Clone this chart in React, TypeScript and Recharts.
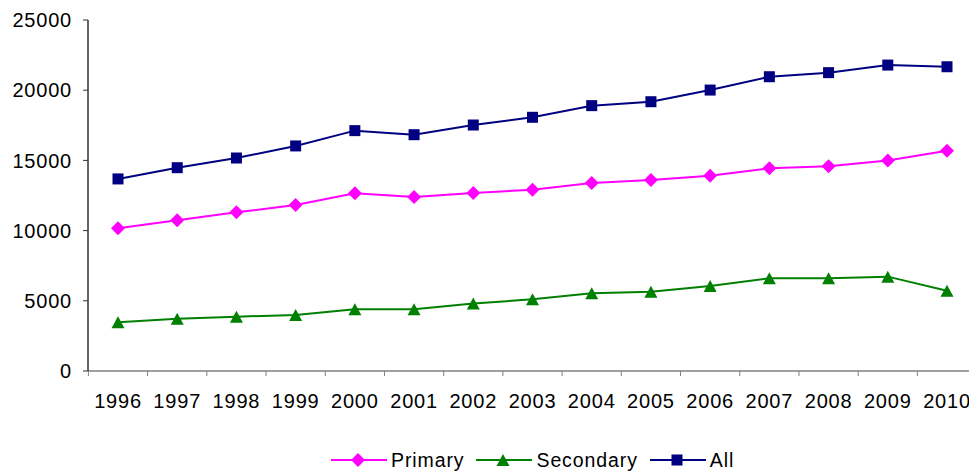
import React from 'react';
import { LineChart, Line, XAxis, YAxis, Legend } from 'recharts';

const years = ['1996', '1997', '1998', '1999', '2000', '2001', '2002', '2003', '2004', '2005', '2006', '2007', '2008', '2009', '2010'];
const primary = [10160, 10730, 11300, 11820, 12660, 12390, 12680, 12910, 13390, 13600, 13910, 14440, 14580, 15000, 15690];
const secondary = [3470, 3730, 3870, 3990, 4390, 4390, 4800, 5110, 5530, 5650, 6050, 6600, 6600, 6720, 5720];
const all = [13680, 14480, 15170, 16030, 17120, 16830, 17520, 18070, 18900, 19180, 20010, 20960, 21250, 21790, 21670];
const yTicks = [0, 5000, 10000, 15000, 20000, 25000];

const data = years.map((year, i) => ({
  year,
  Primary: primary[i],
  Secondary: secondary[i],
  All: all[i],
}));

const FONT = '"Liberation Sans", Arial, sans-serif';
const PINK = '#ff00ff';
const GREEN = '#008000';
const NAVY = '#000080';

// chart geometry
const CHART_W = 982;
const CHART_H = 472;
const PLOT_LEFT = 88;
const PLOT_RIGHT = 977;
const X_PAD = 30;
const STEP = (PLOT_RIGHT - PLOT_LEFT - 2 * X_PAD) / (years.length - 1);

const diamond = (cx: number, cy: number, color: string, key?: string) => (
  <path key={key} d={`M${cx},${cy - 7}L${cx + 7},${cy}L${cx},${cy + 7}L${cx - 7},${cy}Z`} fill={color} />
);
const triangle = (cx: number, cy: number, color: string, key?: string) => (
  <path key={key} d={`M${cx},${cy - 6}L${cx + 6.5},${cy + 6}L${cx - 6.5},${cy + 6}Z`} fill={color} />
);
const square = (cx: number, cy: number, color: string, key?: string) => (
  <rect key={key} x={cx - 5.5} y={cy - 5.5} width={11} height={11} fill={color} />
);

const shapes = {
  Primary: { color: PINK, mark: diamond },
  Secondary: { color: GREEN, mark: triangle },
  All: { color: NAVY, mark: square },
} as const;

function dotFor(name: keyof typeof shapes) {
  return (props: any) => {
    const { cx, cy, index } = props;
    if (cx == null || cy == null) return <g key={`${name}-${index}`} />;
    return shapes[name].mark(cx, cy, shapes[name].color, `${name}-${index}`);
  };
}

// year label plus tick marks on the category boundaries
function YearTick(props: any) {
  const { x, y, payload, index } = props;
  const left = x - STEP / 2;
  const right = x + STEP / 2;
  return (
    <g>
      <line x1={left} x2={left} y1={y} y2={y + 5} stroke="#808080" />
      {index === years.length - 1 && <line x1={right} x2={right} y1={y} y2={y + 5} stroke="#808080" />}
      <text
        x={x}
        y={y + 37}
        textAnchor="middle"
        fontSize={20}
        letterSpacing={0.8}
        fontFamily={FONT}
        fill="#000"
      >
        {payload.value}
      </text>
    </g>
  );
}

function LegendRow() {
  const items: (keyof typeof shapes)[] = ['Primary', 'Secondary', 'All'];
  return (
    <div style={{ display: 'flex', alignItems: 'center', height: 24, marginLeft: 331 }}>
      {items.map((name) => (
        <div key={name} style={{ display: 'flex', alignItems: 'center', marginRight: 12 }}>
          <svg width={56} height={16}>
            <line x1={0} x2={56} y1={8} y2={8} stroke={shapes[name].color} strokeWidth={2} />
            {shapes[name].mark(27, 8, shapes[name].color)}
          </svg>
          <span
            style={{
              fontFamily: FONT,
              fontSize: 19.5,
              letterSpacing: 0.9,
              color: '#000',
              marginLeft: 4,
              lineHeight: '24px',
            }}
          >
            {name}
          </span>
        </div>
      ))}
    </div>
  );
}

export default function App() {
  return (
    <div style={{ position: 'absolute', left: 0, top: 0, width: 969, height: CHART_H, overflow: 'hidden', background: '#fff' }}>
      <LineChart width={CHART_W} height={CHART_H} data={data} margin={{ top: 20, right: CHART_W - PLOT_RIGHT, bottom: 0, left: 0 }}>
        <XAxis
          dataKey="year"
          padding={{ left: X_PAD, right: X_PAD }}
          tick={<YearTick />}
          tickLine={false}
          tickSize={0}
          tickMargin={0}
          height={77}
          interval={0}
          axisLine={{ stroke: '#808080', strokeWidth: 1.5 }}
        />
        <YAxis
          domain={[0, 25000]}
          ticks={yTicks}
          width={PLOT_LEFT}
          tickSize={5}
          tickMargin={11}
          interval={0}
          axisLine={{ stroke: '#333', strokeWidth: 1.5 }}
          tickLine={{ stroke: '#333' }}
          tick={{ fontSize: 20, fill: '#000', fontFamily: FONT, letterSpacing: 0.8 }}
        />
        <Legend verticalAlign="bottom" content={<LegendRow />} wrapperStyle={{ height: 24 }} />
        <Line dataKey="Primary" stroke={PINK} strokeWidth={2} dot={dotFor('Primary')} isAnimationActive={false} />
        <Line dataKey="Secondary" stroke={GREEN} strokeWidth={2} dot={dotFor('Secondary')} isAnimationActive={false} />
        <Line dataKey="All" stroke={NAVY} strokeWidth={2} dot={dotFor('All')} isAnimationActive={false} />
      </LineChart>
    </div>
  );
}
